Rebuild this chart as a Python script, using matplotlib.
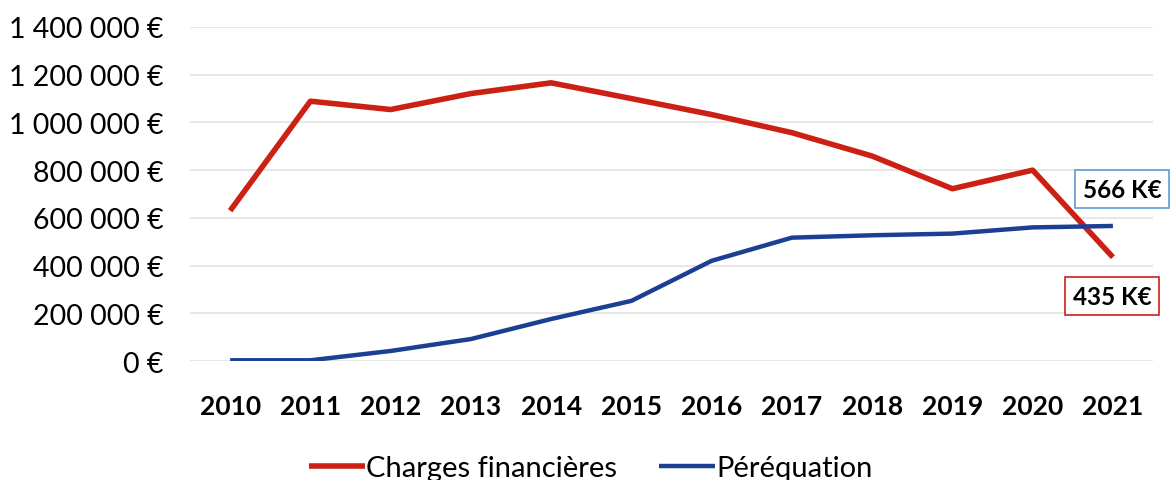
import matplotlib.pyplot as plt
from matplotlib.ticker import FuncFormatter

# Data
years = [2010, 2011, 2012, 2013, 2014, 2015, 2016, 2017, 2018, 2019, 2020, 2021]
charges_financieres = [630000, 1089000, 1054000, 1121000, 1166000, 1100000,
                       1033000, 957000, 859000, 722000, 800000, 435000]
perequation = [3000, 3000, 42000, 92000, 176000, 252000,
               420000, 517000, 527000, 534000, 560000, 566000]
y_ticks = [0, 200000, 400000, 600000, 800000, 1000000, 1200000, 1400000]

RED = '#cc2014'
BLUE = '#1c3f94'
FONT = 'Lato'

plt.rcParams['font.family'] = [FONT, 'DejaVu Sans']

fig = plt.figure(figsize=(11.7, 4.81), dpi=100)
ax = fig.add_axes([0.1624, 0.2474, 0.8231, 0.6944])

x = list(range(len(years)))
ax.plot(x, charges_financieres, color=RED, linewidth=4.0, label='Charges financières',
        solid_joinstyle='round', solid_capstyle='butt')
ax.plot(x, perequation, color=BLUE, linewidth=3.2, label='Péréquation',
        solid_joinstyle='round', solid_capstyle='butt')

ax.set_xlim(-0.5, len(years) - 0.5)
ax.set_ylim(0, 1400000)
ax.set_yticks(y_ticks)
ax.yaxis.set_major_formatter(FuncFormatter(lambda v, p: f'{int(v):,} €'.replace(',', ' ')))
ax.set_xticks(x)
ax.set_xticklabels([str(y) for y in years], fontweight='bold')

ax.tick_params(axis='y', length=0, pad=19, labelsize=20.5)
ax.tick_params(axis='x', length=0, pad=24, labelsize=19)

# Light horizontal grid, no spines
ax.grid(axis='y', color='#e3e3e3', linewidth=1.2)
ax.set_axisbelow(True)
for side in ['left', 'right', 'top', 'bottom']:
    ax.spines[side].set_visible(False)

# Value boxes for 2021
ax.annotate(f'{perequation[-1] // 1000} K€', xy=(x[-1], perequation[-1]),
            xytext=(6.5, 26.6), textcoords='offset points', ha='center', va='center',
            fontsize=17.5, fontweight='bold',
            bbox=dict(boxstyle='square,pad=0.3', fc='white', ec='#5b9bd5', lw=1.2))
ax.annotate(f'{charges_financieres[-1] // 1000} K€', xy=(x[-1], charges_financieres[-1]),
            xytext=(-0.7, -28), textcoords='offset points', ha='center', va='center',
            fontsize=17.5, fontweight='bold',
            bbox=dict(boxstyle='square,pad=0.3', fc='white', ec=RED, lw=1.2))

fig.legend(loc='center', bbox_to_anchor=(0.505, 0.025), ncol=2, frameon=False,
           fontsize=21, handlelength=1.9, handletextpad=0.05, columnspacing=1.45)

fig.savefig('out.png', dpi=100)
